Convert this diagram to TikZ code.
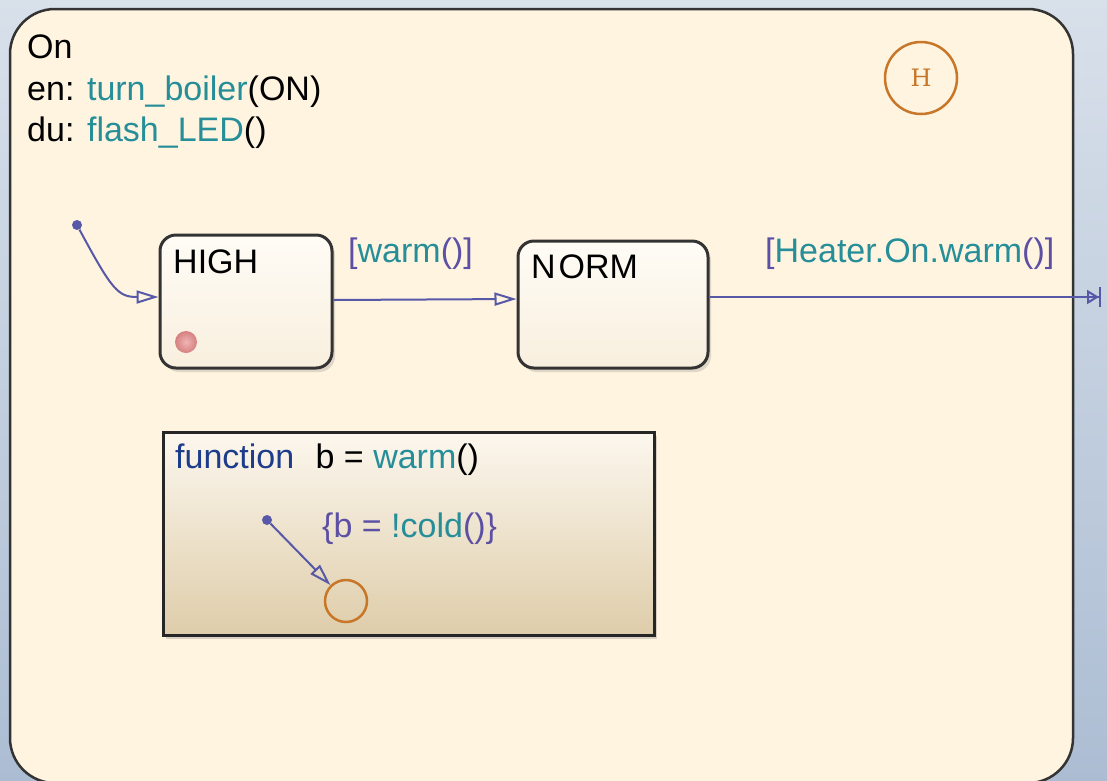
\documentclass[tikz,border=0pt]{standalone}
\usepackage{fontspec}
\setmainfont{Liberation Sans}
\newfontfamily\juncfont{DejaVu Serif}
\usetikzlibrary{arrows.meta,shadows}

\definecolor{bgtop}{RGB}{216,224,234}
\definecolor{bgbot}{RGB}{172,189,211}
\definecolor{cream}{RGB}{255,244,224}
\definecolor{tealtxt}{RGB}{38,142,152}
\definecolor{lbl}{RGB}{92,80,165}
\definecolor{trans}{RGB}{88,88,168}
\definecolor{junc}{RGB}{200,118,40}
\definecolor{fnblue}{RGB}{30,60,140}
\definecolor{statetop}{RGB}{255,252,246}
\definecolor{statebot}{RGB}{248,239,222}
\definecolor{fntop}{RGB}{252,247,238}
\definecolor{fnbot}{RGB}{222,205,170}
\definecolor{reddot}{RGB}{214,128,128}
\definecolor{reddotin}{RGB}{240,180,180}

\begin{document}
\begin{tikzpicture}[x=1pt,y=-1pt,
  font=\fontsize{34}{40}\selectfont,
  txt/.style={anchor=base west, inner sep=0pt},
  statebox/.style={draw=black!80, line width=3pt, rounded corners=16pt,
    top color=statetop, bottom color=statebot,
    drop shadow={shadow xshift=3pt, shadow yshift=-4pt, opacity=0.25}},
  fnbox/.style={draw=black!85, line width=3pt,
    top color=fntop, bottom color=fnbot,
    drop shadow={shadow xshift=3pt, shadow yshift=-4pt, opacity=0.3}},
  tdot/.style={circle, fill=trans, inner sep=0pt, minimum size=10pt},
  tline/.style={draw=trans, line width=2pt,
    -{Triangle[open, length=22pt, width=13pt, line width=2pt]}},
  junction/.style={circle, draw=junc, line width=2.5pt, inner sep=0pt}
]
\useasboundingbox (0,0) rectangle (1107,780);
\shade[top color=bgtop, bottom color=bgbot] (0,0) rectangle (1107,780);

% outer state
\node[draw=black!80, line width=2.5pt, rounded corners=45pt, fill=cream,
      minimum width=1063pt, minimum height=774pt, inner sep=0pt] (on) at (541.5,396) {};
\node[txt] (onname) at (27,58) {On};
\node[txt] (onen) at (27,100) {en: \textcolor{tealtxt}{turn\_boiler}(ON)};
\node[txt] (ondu) at (27,141) {du: \textcolor{tealtxt}{flash\_LED}()};

% history junction
\node[junction, minimum size=72pt, text=junc,
      font=\juncfont\fontsize{24}{24}\selectfont] (hist) at (921,78) {H};

% substates
\node[statebox, minimum width=172pt, minimum height=133pt] (high) at (246,301.5) {};
\node[txt] (highname) at (173,273) {HIGH};
\node[circle, inner sep=0pt, minimum size=22pt, inner color=reddotin, outer color=reddot] (hdot) at (186,342) {};

\node[statebox, minimum width=190pt, minimum height=127pt] (norm) at (613,304.5) {};
\node[txt] (normname) at (531,278) {N\kern3pt ORM};

% default transition
\node[tdot] (d1) at (77,225) {};
\draw[tline] (d1) .. controls (112,290) and (118,297) .. ([yshift=4.5pt]high.west);

% HIGH -> NORM
\draw[tline] ([yshift=1.5pt]high.east) -- ([yshift=5.5pt]norm.west);
\node[txt, text=tealtxt] (lblwarm) at (348,262) {\textcolor{lbl}{[}warm\textcolor{lbl}{()]}};

% NORM -> exit
\coordinate (exit) at (1101,297);
\draw[draw=trans, line width=2pt,
  -{Triangle[open, length=12pt, width=14pt, line width=2pt]Bar[width=20pt, line width=2pt]}]
  ([yshift=7.5pt]norm.east) -- (exit);
\node[txt, text=tealtxt] (lblheater) at (765,262) {\textcolor{lbl}{[}Heater.On.warm\textcolor{lbl}{()]}};

% graphical function
\node[fnbox, minimum width=491pt, minimum height=203pt, inner sep=0pt] (fn) at (408.5,533.5) {};
\node[txt] (fnhead) at (175,468) {\textcolor{fnblue}{function}\hspace{0.35em} b = \textcolor{tealtxt}{warm}()};
\node[tdot] (d2) at (267,520) {};
\node[junction, minimum size=42pt] (fj) at (346,601) {};
\draw[tline] (d2) -- (fj);
\node[txt, text=lbl] (lblcold) at (322,537) {\{b = \textcolor{tealtxt}{!cold}()\}};
\end{tikzpicture}
\end{document}
